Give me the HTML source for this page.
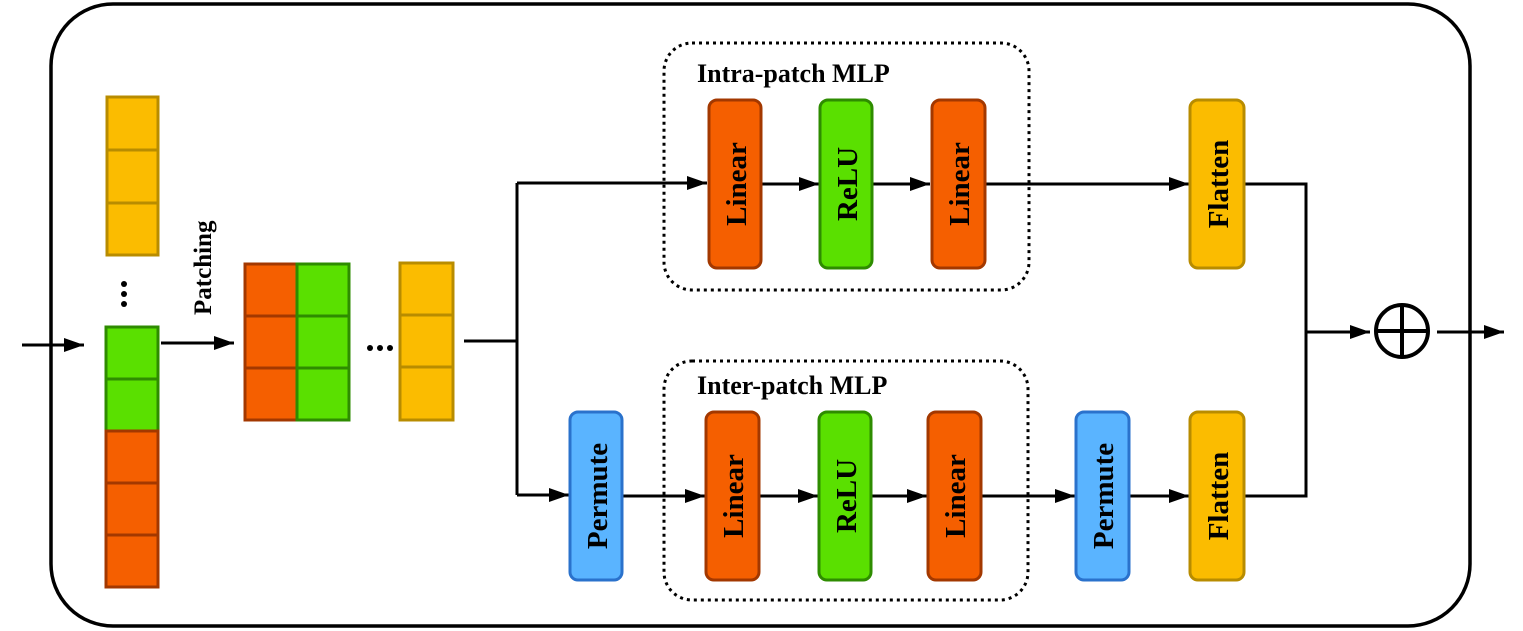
<!DOCTYPE html>
<html><head><meta charset="utf-8"><style>body{margin:0;background:#fff}svg{display:block}</style></head><body>
<svg width="1523" height="631" viewBox="0 0 1523 631" xmlns="http://www.w3.org/2000/svg" font-family="Liberation Serif, serif" font-weight="bold">
<defs>
<marker id="b" viewBox="0 0 20 14" markerWidth="20" markerHeight="14" refX="20" refY="7" orient="auto" markerUnits="userSpaceOnUse"><path d="M0,0 L20,7 L0,14 z"/></marker></defs>
<rect x="51" y="4" width="1419" height="622" rx="62" fill="none" stroke="#000" stroke-width="3.5"/>
<g stroke-width="3">
<g fill="#fbbc00" stroke="#b88c00"><rect x="107" y="97" width="51" height="53"/><rect x="107" y="150" width="51" height="53"/><rect x="107" y="203" width="51" height="52"/></g>
<g fill="#5ae000" stroke="#2e8c00"><rect x="106" y="327" width="52" height="52"/><rect x="106" y="379" width="52" height="52"/></g>
<g fill="#f55f00" stroke="#a33800"><rect x="106" y="431" width="52" height="52"/><rect x="106" y="483" width="52" height="52"/><rect x="106" y="535" width="52" height="52"/></g>
<g fill="#f55f00" stroke="#a33800"><rect x="245" y="264" width="52" height="52"/><rect x="245" y="316" width="52" height="52"/><rect x="245" y="368" width="52" height="52"/></g>
<g fill="#5ae000" stroke="#2e8c00"><rect x="297" y="264" width="52" height="52"/><rect x="297" y="316" width="52" height="52"/><rect x="297" y="368" width="52" height="52"/></g>
<g fill="#fbbc00" stroke="#b88c00"><rect x="400" y="263" width="53" height="52"/><rect x="400" y="315" width="53" height="52"/><rect x="400" y="367" width="53" height="53"/></g>
</g>
<g fill="#000"><circle cx="124" cy="284" r="3"/><circle cx="124" cy="294" r="3"/><circle cx="124" cy="304" r="3"/>
<circle cx="370" cy="348" r="3"/><circle cx="380" cy="348" r="3"/><circle cx="390" cy="348" r="3"/></g>
<text transform="translate(211,315) rotate(-90)" font-size="25">Patching</text>
<rect x="664" y="43" width="365" height="247" rx="28" fill="none" stroke="#000" stroke-width="3" stroke-dasharray="3,4"/>
<rect x="664" y="361" width="364" height="239" rx="28" fill="none" stroke="#000" stroke-width="3" stroke-dasharray="3,4"/>
<text x="697" y="82" font-size="26">Intra-patch MLP</text>
<text x="697" y="394" font-size="26">Inter-patch MLP</text>
<g stroke="#000" stroke-width="3" fill="none">
<line x1="22" y1="345" x2="84" y2="345" marker-end="url(#b)"/>
<line x1="161" y1="343" x2="234" y2="343" marker-end="url(#b)"/>
<polyline points="464,341 517,341"/>
<polyline points="517,183 517,495"/>
<line x1="517" y1="183" x2="707" y2="183" marker-end="url(#b)"/>
<line x1="517" y1="495" x2="569" y2="495" marker-end="url(#b)"/>
<line x1="761" y1="184" x2="819" y2="184" marker-end="url(#b)"/>
<line x1="872" y1="184" x2="930" y2="184" marker-end="url(#b)"/>
<line x1="985" y1="184" x2="1189" y2="184" marker-end="url(#b)"/>
<line x1="622" y1="496" x2="705" y2="496" marker-end="url(#b)"/>
<line x1="759" y1="496" x2="818" y2="496" marker-end="url(#b)"/>
<line x1="871" y1="496" x2="927" y2="496" marker-end="url(#b)"/>
<line x1="981" y1="496" x2="1075" y2="496" marker-end="url(#b)"/>
<line x1="1129" y1="496" x2="1189" y2="496" marker-end="url(#b)"/>
<polyline points="1244,184 1306,184 1306,496 1244,496"/>
<line x1="1306" y1="332" x2="1370" y2="332" marker-end="url(#b)"/>
<line x1="1437" y1="332" x2="1504" y2="332" marker-end="url(#b)"/>
<circle cx="1402" cy="331" r="26" stroke-width="4"/>
<line x1="1376" y1="331" x2="1428" y2="331" stroke-width="4"/>
<line x1="1402" y1="305" x2="1402" y2="357" stroke-width="4"/>
</g>
<g stroke-width="3">
<rect x="709" y="100" width="52" height="168" rx="8" fill="#f55f00" stroke="#a33800"/>
<rect x="820" y="100" width="52" height="168" rx="8" fill="#5ae000" stroke="#2e8c00"/>
<rect x="932" y="100" width="53" height="168" rx="8" fill="#f55f00" stroke="#a33800"/>
<rect x="1190" y="100" width="54" height="168" rx="8" fill="#fbbc00" stroke="#b88c00"/>
<rect x="570" y="412" width="52" height="168" rx="8" fill="#5ab4ff" stroke="#2a72cc"/>
<rect x="706" y="412" width="53" height="168" rx="8" fill="#f55f00" stroke="#a33800"/>
<rect x="819" y="412" width="52" height="168" rx="8" fill="#5ae000" stroke="#2e8c00"/>
<rect x="928" y="412" width="53" height="168" rx="8" fill="#f55f00" stroke="#a33800"/>
<rect x="1076" y="412" width="53" height="168" rx="8" fill="#5ab4ff" stroke="#2a72cc"/>
<rect x="1190" y="412" width="54" height="168" rx="8" fill="#fbbc00" stroke="#b88c00"/>
</g>
<g font-size="29" text-anchor="middle">
<text transform="translate(746,184) rotate(-90)">Linear</text>
<text transform="translate(857,184) rotate(-90)">ReLU</text>
<text transform="translate(969,184) rotate(-90)">Linear</text>
<text transform="translate(1228,184) rotate(-90)">Flatten</text>
<text transform="translate(607,496) rotate(-90)">Permute</text>
<text transform="translate(743,496) rotate(-90)">Linear</text>
<text transform="translate(856,496) rotate(-90)">ReLU</text>
<text transform="translate(965,496) rotate(-90)">Linear</text>
<text transform="translate(1113,496) rotate(-90)">Permute</text>
<text transform="translate(1228,496) rotate(-90)">Flatten</text>
</g>
</svg>
</body></html>
